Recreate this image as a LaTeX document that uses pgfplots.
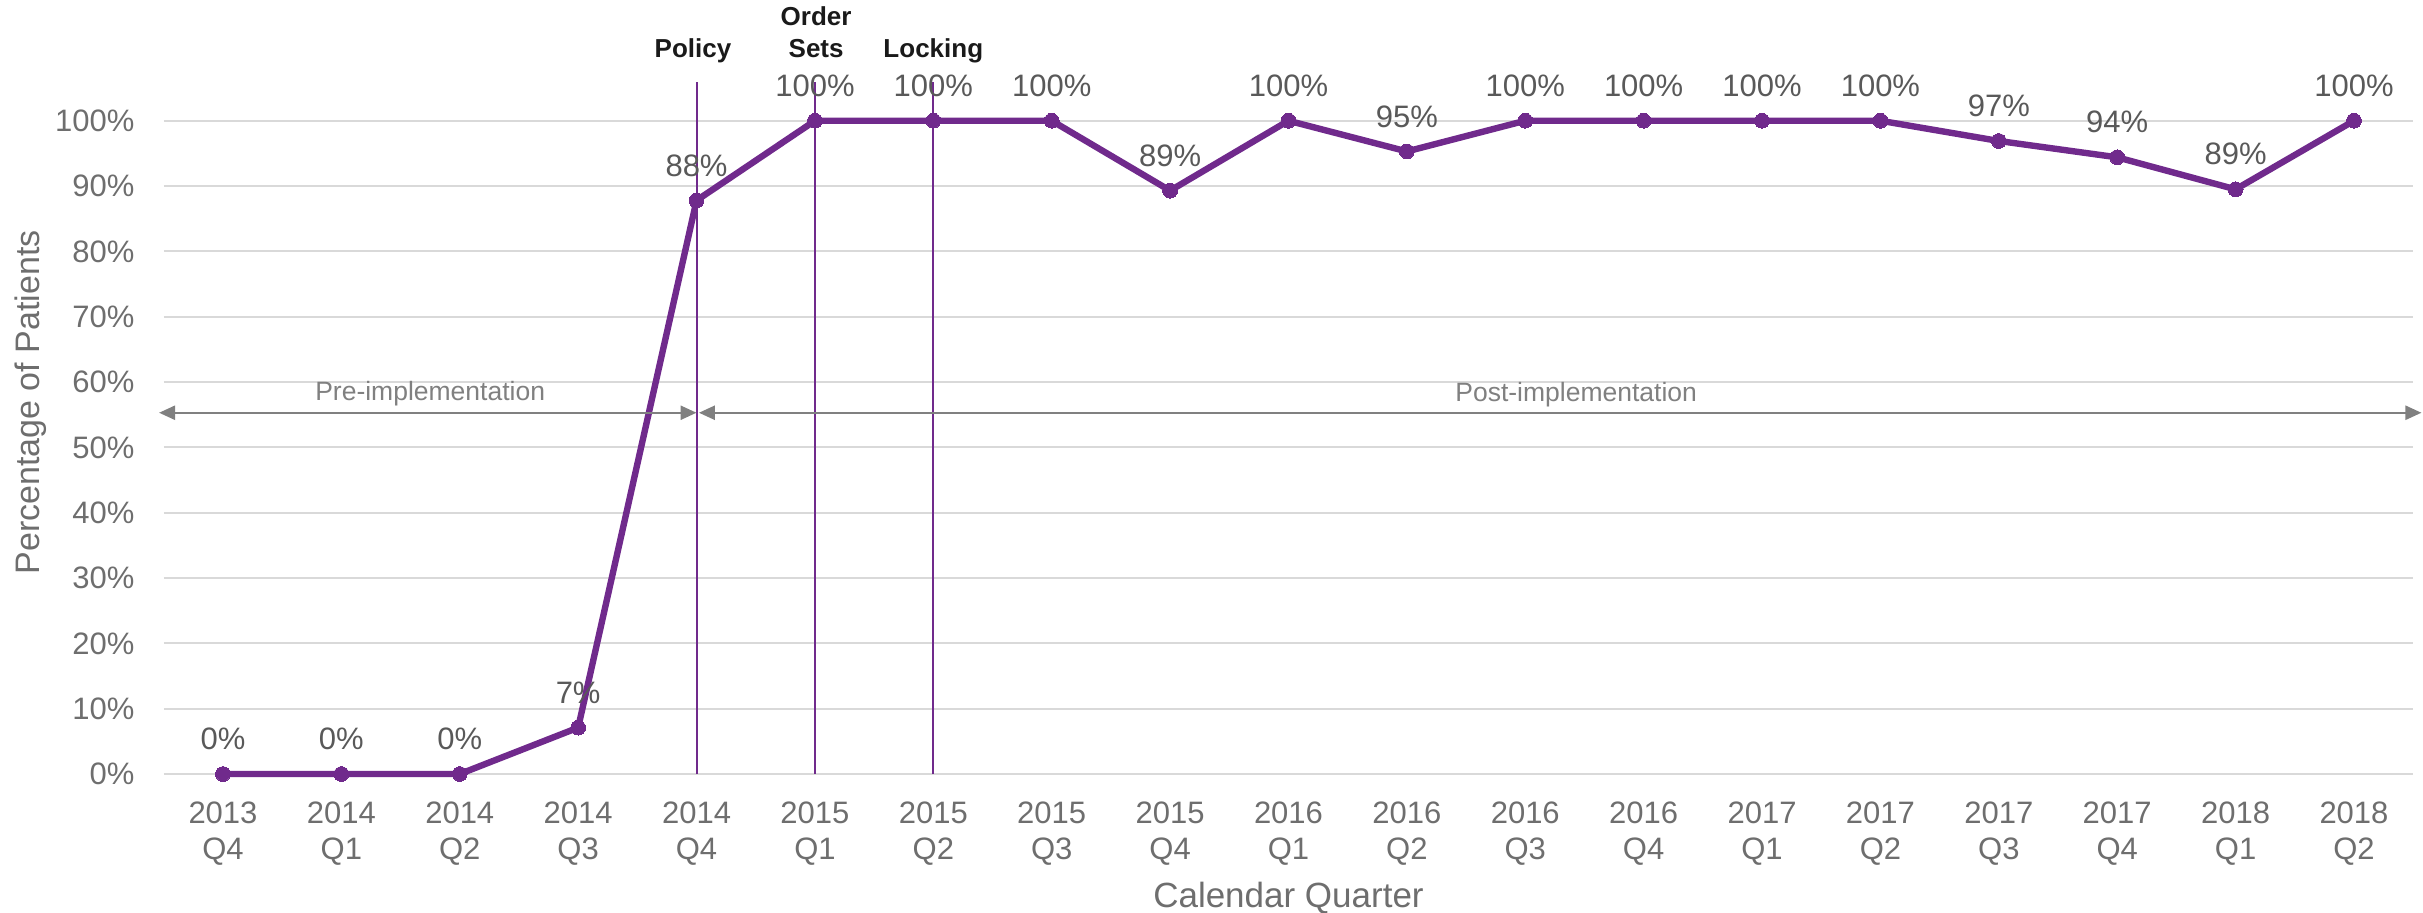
\documentclass[border=0pt]{standalone}
\usepackage{fontspec}
\setmainfont{Liberation Sans}
\usepackage{pgfplots}
\usepackage{pgfplotstable}
\pgfplotsset{compat=1.18}
\usetikzlibrary{arrows.meta}
\definecolor{lpurple}{HTML}{702A8C}
\definecolor{gridgray}{HTML}{D9D9D9}
\definecolor{ticktext}{HTML}{6E6E6E}
\definecolor{labeltext}{HTML}{595959}
\definecolor{arrowgray}{HTML}{808080}
\definecolor{evblack}{HTML}{1A1A1A}

\pgfplotstableread{
x y lab
0 0 0
1 0 0
2 0 0
3 7.1 7
4 87.8 88
5 100 100
6 100 100
7 100 100
8 89.3 89
9 100 100
10 95.3 95
11 100 100
12 100 100
13 100 100
14 100 100
15 96.9 97
16 94.4 94
17 89.5 89
18 100 100
}\datatable

\begin{document}
\begin{tikzpicture}
\begin{axis}[
  at={(0,0)}, anchor=south west,
  scale only axis,
  width=1124.7pt, height=359.3pt,
  xmin=-0.5, xmax=18.5, ymin=0, ymax=110,
  clip=false,
  axis line style={draw=none},
  major tick length=0pt,
  ymajorgrids,
  grid style={draw=gridgray, line width=1pt},
  ytick={0,10,...,100},
  yticklabel={\pgfmathprintnumber{\tick}\%},
  xtick={0,...,18},
  xticklabels={{2013\\Q4},{2014\\Q1},{2014\\Q2},{2014\\Q3},{2014\\Q4},{2015\\Q1},{2015\\Q2},{2015\\Q3},{2015\\Q4},{2016\\Q1},{2016\\Q2},{2016\\Q3},{2016\\Q4},{2017\\Q1},{2017\\Q2},{2017\\Q3},{2017\\Q4},{2018\\Q1},{2018\\Q2}},
  xticklabel style={align=center, anchor=north, inner sep=0pt, yshift=-13.5pt, font=\fontsize{15.5}{18}\selectfont, text=ticktext},
  yticklabel style={anchor=east, inner sep=0pt, xshift=-14.5pt, font=\fontsize{15.5}{18}\selectfont, text=ticktext},
  /pgf/number format/assume math mode=true,
]
\addplot[lpurple, line width=3.2pt, mark=*, mark size=3.7pt,
  mark options={solid, fill=lpurple, draw=lpurple, line width=0pt},
  point meta=explicit,
  nodes near coords={\pgfmathprintnumber[fixed,precision=0]{\pgfplotspointmeta}\%},
  every node near coord/.append style={anchor=center, yshift=17.5pt, inner sep=0pt, font=\fontsize{15.5}{18}\selectfont, text=labeltext}
] table[x=x, y=y, meta=lab] {\datatable};

\addplot[lpurple, line width=1pt] coordinates {(4,0) (4,105.9)};
\addplot[lpurple, line width=1pt] coordinates {(5,0) (5,105.9)};
\addplot[lpurple, line width=1pt] coordinates {(6,0) (6,105.9)};

\addplot[arrowgray, line width=1.2pt, {Triangle[length=8pt,width=7pt]}-{Triangle[length=8pt,width=7pt]}] coordinates {(-0.54,55.3) (4,55.3)};
\addplot[arrowgray, line width=1.2pt, {Triangle[length=8pt,width=7pt]}-{Triangle[length=8pt,width=7pt]}] coordinates {(4.02,55.3) (18.57,55.3)};

\node[text=arrowgray, font=\fontsize{13.25}{15}\selectfont] at (axis cs:1.75,58.2) {Pre-implementation};
\node[text=arrowgray, font=\fontsize{13.25}{15}\selectfont] at (axis cs:11.43,58.1) {Post-implementation};

\node[anchor=base, text=evblack, font=\bfseries\fontsize{13}{15}\selectfont] at (axis cs:3.97,109.75) {Policy};
\node[anchor=base, text=evblack, font=\bfseries\fontsize{13}{15}\selectfont] at (axis cs:5.01,114.65) {Order};
\node[anchor=base, text=evblack, font=\bfseries\fontsize{13}{15}\selectfont] at (axis cs:5.01,109.75) {Sets};
\node[anchor=base, text=evblack, font=\bfseries\fontsize{13}{15}\selectfont] at (axis cs:6.0,109.75) {Locking};

\node[rotate=90, text=ticktext, font=\fontsize{17}{20}\selectfont] at (axis cs:-1.62,56.9) {Percentage of Patients};
\node[anchor=base, text=ticktext, font=\fontsize{17.5}{20}\selectfont] at (axis cs:9.0,-20.36) {Calendar Quarter};
\end{axis}
\pgfresetboundingbox
\path (-81.9pt,-69pt) rectangle (1129.6pt,387pt);
\end{tikzpicture}
\end{document}
